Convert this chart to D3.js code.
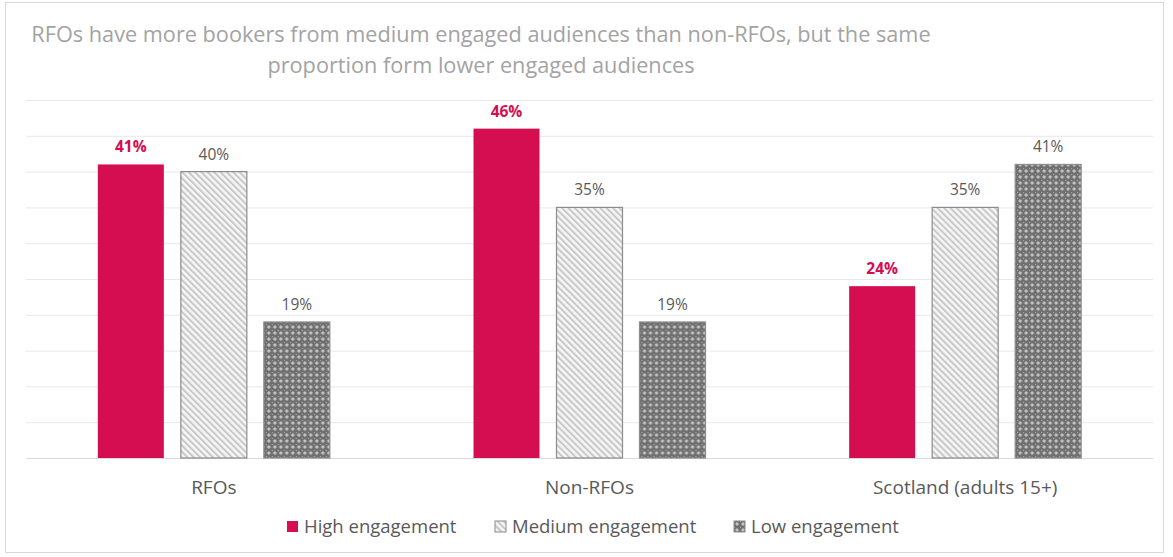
<!DOCTYPE html>
<html>
<head>
<meta charset="utf-8">
<script src="https://cdn.jsdelivr.net/npm/d3@7"></script>
<style>
  html, body { margin: 0; padding: 0; background: #fff; }
  svg { display: block; font-family: "Open Sans", sans-serif; }
</style>
</head>
<body>
<svg id="chart" width="1173" height="557"></svg>
<script>
// Share of bookers by engagement level
const categories = ["RFOs", "Non-RFOs", "Scotland (adults 15+)"];
const seriesNames = ["High engagement", "Medium engagement", "Low engagement"];
const highValues = [41, 46, 24];
const mediumValues = [40, 35, 35];
const lowValues = [19, 19, 41];
const yTicks = [0, 5, 10, 15, 20, 25, 30, 35, 40, 45, 50];
const titleLines = [
  "RFOs have more bookers from medium engaged audiences than non-RFOs, but the same",
  "proportion form lower engaged audiences"
];

const seriesValues = [highValues, mediumValues, lowValues];
const rows = categories.map((c, i) => ({
  category: c,
  values: seriesNames.map((s, j) => ({ key: s, value: seriesValues[j][i] }))
}));

const svg = d3.select("#chart");
const W = 1173, H = 557;
const margin = { left: 26, right: 20, top: 100, bottom: 99 };
const plotRight = W - margin.right;
const baseY = H - margin.bottom;

// Outer frame
svg.append("rect")
  .attr("x", 5.5).attr("y", 2.5)
  .attr("width", 1158).attr("height", 550)
  .attr("fill", "#fff").attr("stroke", "#d9d9d9").attr("stroke-width", 1);

// Fill patterns
const defs = svg.append("defs");
const stripe = defs.append("pattern")
  .attr("id", "stripes").attr("patternUnits", "userSpaceOnUse")
  .attr("width", 4.5).attr("height", 4.5)
  .attr("patternTransform", "rotate(-45)");
stripe.append("rect").attr("width", 4.5).attr("height", 4.5).attr("fill", "#f6f6f6");
stripe.append("rect").attr("width", 2).attr("height", 4.5).attr("fill", "#c8c8c8");

const checks = defs.append("pattern")
  .attr("id", "checks").attr("patternUnits", "userSpaceOnUse")
  .attr("width", 6).attr("height", 6);
checks.append("rect").attr("width", 6).attr("height", 6).attr("fill", "#707070");
checks.append("path").attr("d", "M3,1 L5,3 L3,5 L1,3 Z").attr("fill", "#c4c4c4");
checks.append("rect").attr("x", 0).attr("y", 0).attr("width", 1).attr("height", 1).attr("fill", "#b0b0b0");

const fills = {
  "High engagement": "#d40e50",
  "Medium engagement": "url(#stripes)",
  "Low engagement": "url(#checks)"
};
const strokes = {
  "High engagement": "none",
  "Medium engagement": "#8c8c8c",
  "Low engagement": "#8c8c8c"
};

// Scales
const y = d3.scaleLinear().domain([0, 50]).range([baseY, margin.top]);
const x0 = d3.scaleBand().domain(categories)
  .range([margin.left, plotRight])
  .paddingInner(0.3824).paddingOuter(0.1912);
const x1 = d3.scaleBand().domain(seriesNames)
  .range([0, x0.bandwidth()]).paddingInner(0.2048).paddingOuter(0);

// Gridlines
const grid = d3.axisLeft(y).tickValues(yTicks).tickSize(-(plotRight - margin.left)).tickFormat("");
svg.append("g")
  .attr("transform", `translate(${margin.left},0)`)
  .call(grid)
  .call(g => g.select(".domain").remove())
  .call(g => g.selectAll(".tick line").attr("stroke", "#e8e8e8").attr("stroke-width", 1));

// Category axis
svg.append("g")
  .attr("transform", `translate(0,${baseY})`)
  .call(d3.axisBottom(x0).tickSize(0).tickPadding(23))
  .call(g => g.select(".domain").attr("stroke", "#d9d9d9"))
  .call(g => g.selectAll(".tick text")
    .attr("font-family", "'Open Sans', sans-serif")
    .attr("font-size", 19).attr("fill", "#595959"));

// Bars
const groups = svg.append("g").selectAll("g")
  .data(rows).join("g")
  .attr("transform", d => `translate(${x0(d.category)},0)`);

groups.selectAll("rect")
  .data(d => d.values).join("rect")
  .attr("x", d => x1(d.key))
  .attr("y", d => y(d.value))
  .attr("width", x1.bandwidth())
  .attr("height", d => baseY - y(d.value))
  .attr("fill", d => fills[d.key])
  .attr("stroke", d => strokes[d.key])
  .attr("stroke-width", 1.2);

groups.selectAll("text")
  .data(d => d.values).join("text")
  .attr("x", d => x1(d.key) + x1.bandwidth() / 2)
  .attr("y", d => y(d.value) - 12)
  .attr("text-anchor", "middle")
  .attr("font-size", 15.5)
  .attr("font-weight", d => d.key === "High engagement" ? 700 : 400)
  .attr("fill", d => d.key === "High engagement" ? "#d40e50" : "#595959")
  .text(d => d.value + "%");

// Title
svg.append("g").selectAll("text")
  .data(titleLines).join("text")
  .attr("x", 481)
  .attr("y", (d, i) => 42 + i * 31)
  .attr("text-anchor", "middle")
  .attr("font-size", 21.7)
  .attr("fill", "#a3a3a3")
  .text(d => d);

// Legend
const legendX = [287, 495, 734];
const legend = svg.append("g").selectAll("g")
  .data(seriesNames).join("g")
  .attr("transform", (d, i) => `translate(${legendX[i]},533)`);
legend.append("rect")
  .attr("x", 0).attr("y", -12)
  .attr("width", 11).attr("height", 11)
  .attr("fill", d => fills[d])
  .attr("stroke", d => strokes[d]);
legend.append("text")
  .attr("x", 17).attr("y", 0)
  .attr("font-size", 18.5).attr("fill", "#595959")
  .text(d => d);
</script>
</body>
</html>
